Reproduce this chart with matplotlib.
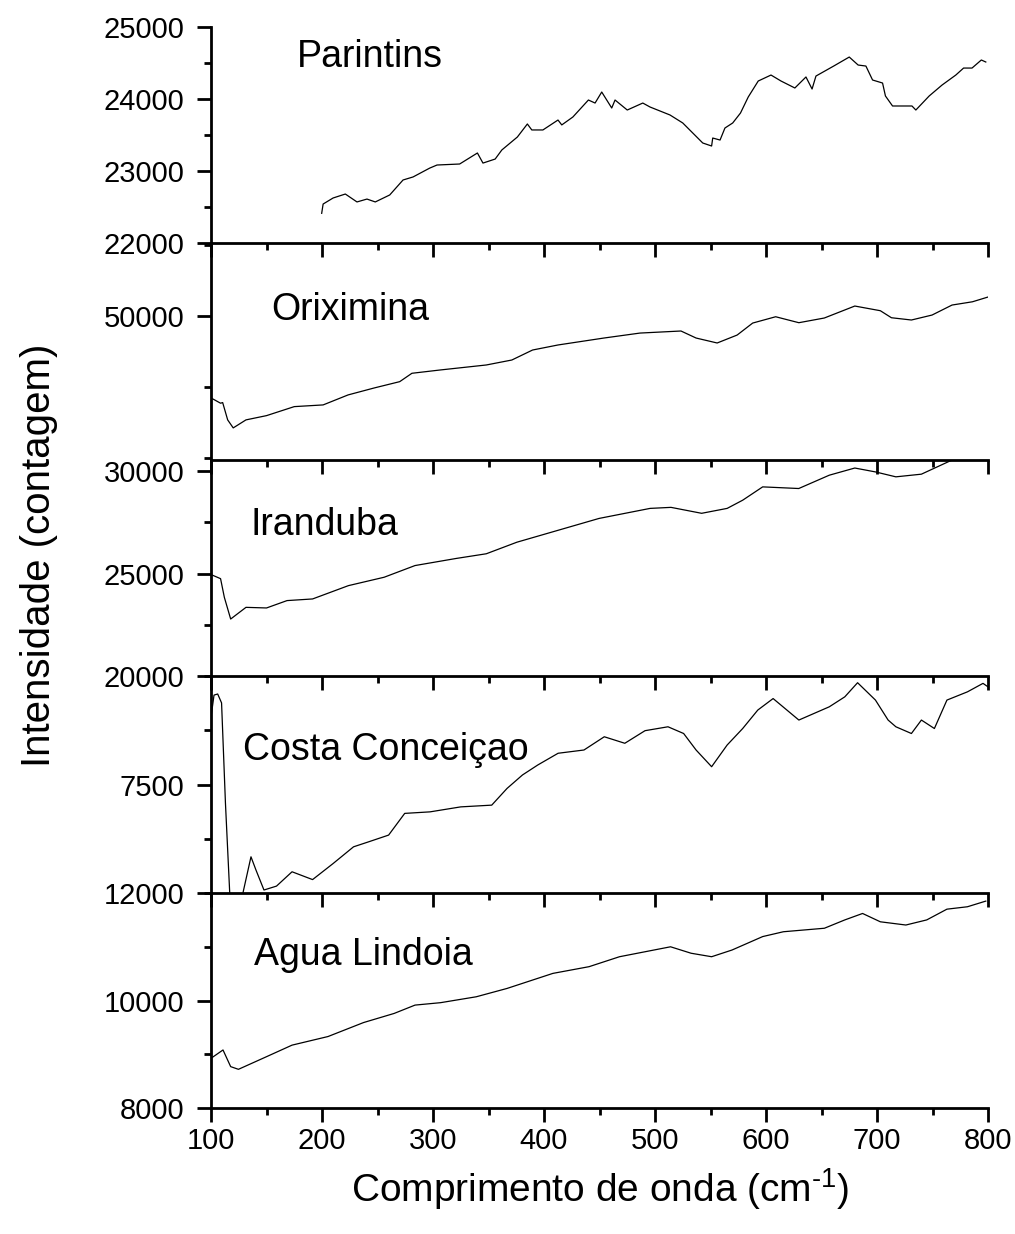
import matplotlib
matplotlib.use('Agg')
import matplotlib.pyplot as plt
from matplotlib.ticker import MultipleLocator

plt.rcParams['font.family'] = ['Liberation Sans', 'DejaVu Sans']
plt.rcParams['mathtext.default'] = 'regular'

# Parintins
parintins_x = [199.7, 201, 210, 221, 231.5, 240.5, 248, 261, 273, 282, 297, 303.6, 324, 340, 345,
               356, 362, 376, 385, 389, 399, 412.6, 416, 426, 440, 446, 452, 461, 464, 475, 489,
               495.5, 513.5, 525, 534, 543, 551, 552, 558.6, 563, 570, 577, 584, 593, 604.5,
               613.5, 626, 636, 641.5, 645, 661, 675, 683, 690, 696, 705, 707.6, 714, 731.5,
               735, 747, 758.6, 771, 778, 785.6, 794, 798]
parintins_y = [22412, 22541, 22625, 22680, 22570, 22610, 22570, 22667, 22875, 22917, 23040, 23083,
               23097, 23250, 23110, 23166, 23292, 23472, 23653, 23570, 23570, 23708, 23640, 23750,
               23986, 23944, 24097, 23875, 23986, 23847, 23944, 23889, 23778, 23667, 23528, 23389,
               23347, 23458, 23430, 23597, 23667, 23805, 24028, 24250, 24333, 24250, 24153, 24306,
               24139, 24319, 24458, 24583, 24472, 24458, 24264, 24222, 24042, 23903, 23903, 23847,
               24042, 24194, 24333, 24430, 24430, 24542, 24514]

# Oriximina
oriximina_x = [100, 108.6, 110.5, 115, 120, 131.5, 150, 175, 201, 223.5, 247, 270, 281, 306.7,
               348, 371, 389.7, 412.6, 454, 486.5, 523.4, 537, 556, 574, 588, 608.7, 629.6,
               652.5, 680, 703, 713, 731, 749.6, 767.6, 786, 800]
oriximina_y = [38455, 37710, 37800, 35360, 34230, 35360, 35960, 37230, 37470, 38880, 39860, 40750,
               41930, 42400, 43100, 43800, 45210, 45920, 46900, 47600, 47890, 46900, 46200, 47320,
               49010, 49900, 49060, 49720, 51410, 50750, 49760, 49440, 50140, 51550, 52010, 52680]

# Iranduba
iranduba_x = [100, 108.6, 112, 117.7, 131.5, 150, 168.5, 191.5, 223.8, 256, 283.8, 320.7, 348,
              375.6, 412.6, 449.6, 495.6, 514.4, 542, 565, 579, 597, 629.5, 657, 680, 698.6,
              717, 740, 754, 767.6, 785, 800]
iranduba_y = [24950, 24750, 23840, 22780, 23350, 23320, 23680, 23760, 24410, 24820, 25390, 25735,
              25965, 26530, 27110, 27690, 28180, 28230, 27940, 28180, 28580, 29230, 29150, 29800,
              30150, 29960, 29720, 29850, 30200, 30540, 30800, 31000]

# Costa Conceicao
costa_x = [100, 102.7, 106, 109.5, 113, 116.8, 119, 125, 129, 136, 140.5, 147.7, 159, 173, 191.5,
           210, 228.4, 242, 260, 274.5, 297.3, 325, 352.9, 366.7, 380.6, 394.4, 412.7, 436,
           454.3, 472.8, 491, 511.7, 525.8, 537, 551, 565, 579, 592.6, 606.4, 629.6, 657, 671,
           682.5, 698.6, 710, 717, 731, 740, 751.7, 763, 781.5, 795.5, 800]
costa_y = [9055, 9560, 9585, 9380, 7070, 5030, 4000, 4000, 5030, 5835, 5530, 5070, 5160, 5490,
           5310, 5680, 6065, 6180, 6335, 6835, 6870, 6985, 7025, 7410, 7720, 7950, 8220, 8295,
           8600, 8450, 8740, 8830, 8675, 8295, 7910, 8410, 8790, 9215, 9480, 8985, 9290, 9520,
           9845, 9445, 8985, 8830, 8675, 8985, 8790, 9445, 9635, 9830, 9750]

# Agua Lindoia
agua_x = [100, 110.8, 117.7, 124.7, 150, 173, 205.4, 237.4, 265, 283.8, 306.8, 339, 366.7, 408,
          440.6, 468, 514, 532.5, 551, 569.4, 597, 615.7, 652.6, 671, 687, 703, 726, 744.8,
          763, 781.5, 798]
agua_y = [8925, 9080, 8770, 8720, 8955, 9170, 9330, 9590, 9760, 9915, 9960, 10070, 10225, 10505,
          10630, 10815, 11000, 10880, 10815, 10940, 11190, 11280, 11345, 11500, 11620, 11465,
          11405, 11500, 11700, 11745, 11850]

names = ['Parintins', 'Oriximina', 'Iranduba', 'Costa Conceiçao', 'Agua Lindoia']
xs = [parintins_x, oriximina_x, iranduba_x, costa_x, agua_x]
ys = [parintins_y, oriximina_y, iranduba_y, costa_y, agua_y]
ylims = [(22000, 25000), (29700, 60300), (20000, 30540), (5000, 10000), (8000, 12000)]
yticks = [[22000, 23000, 24000, 25000], [50000], [20000, 25000, 30000], [7500], [8000, 10000, 12000]]
yminor = [500, 10000, 2500, 1250, 1000]
name_pos = [(177, 0.86), (154, 0.69), (136, 0.70), (129, 0.66), (139, 0.71)]

# panel rectangles (figure fraction)
boxes = [(0.8031, 0.1750), (0.6272, 0.1759), (0.4522, 0.1750), (0.2763, 0.1759), (0.1021, 0.1742)]

fig = plt.figure(figsize=(10.15, 12.34), dpi=100)

for i in range(5):
    ax = fig.add_axes([0.2079, boxes[i][0], 0.7655, boxes[i][1]])
    ax.plot(xs[i], ys[i], color='black', lw=0.9)
    ax.set_xlim(100, 800)
    ax.set_ylim(*ylims[i])
    ax.xaxis.set_major_locator(MultipleLocator(100))
    ax.xaxis.set_minor_locator(MultipleLocator(50))
    ax.set_yticks(yticks[i], [str(v) for v in yticks[i]])
    ax.yaxis.set_minor_locator(MultipleLocator(yminor[i]))
    for s in ['top', 'right']:
        ax.spines[s].set_visible(False)
    for s in ['left', 'bottom']:
        ax.spines[s].set_linewidth(2)
    ax.tick_params(which='major', direction='out', length=10, width=2, labelsize=21)
    ax.tick_params(which='minor', direction='out', length=5, width=2)
    ax.tick_params(axis='y', pad=9)
    ax.tick_params(axis='x', pad=4)
    if i < 4:
        ax.tick_params(axis='x', labelbottom=False)
    ax.patch.set_alpha(0)
    ax.text(name_pos[i][0], name_pos[i][1], names[i], transform=ax.get_xaxis_transform(),
            fontsize=27, va='center', ha='left')

fig.text(0.038, 0.55, 'Intensidade (contagem)', rotation=90, fontsize=29, va='center', ha='center')
fig.text(0.591, 0.036, 'Comprimento de onda (cm$^{\u20101}$)', fontsize=28, va='center', ha='center')

fig.savefig('out.png', dpi=100)
